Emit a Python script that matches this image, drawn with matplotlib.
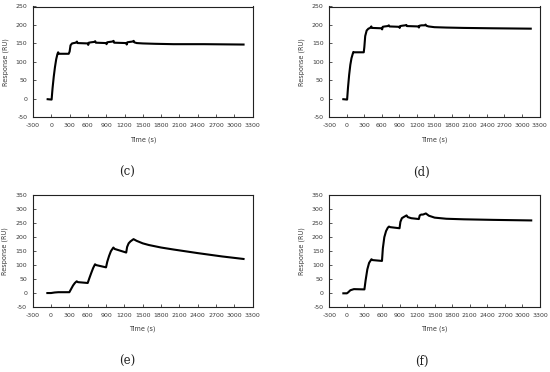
import matplotlib
matplotlib.use("Agg")
import matplotlib.pyplot as plt

plt.rcParams["axes.unicode_minus"] = False

# ---- data ----
t_c = [-60, 5, 20, 40, 60, 80, 100, 112, 125, 285, 300, 315, 340, 370, 400, 420, 430,
       600, 605, 615, 650, 700, 720, 730, 900, 905, 915, 950, 1000, 1020, 1030,
       1230, 1235, 1245, 1280, 1330, 1350, 1360, 1400, 1500, 1700, 2000, 2500, 3150]
r_c = [-1, -2, 28, 60, 86, 107, 121, 126, 122, 122, 128, 145, 150, 151, 152, 155, 151,
       150, 146, 152, 153, 154, 156, 152, 151, 148, 153, 154, 155, 157, 152,
       151, 147, 153, 154, 155, 157, 153, 151, 150, 149, 148, 148, 147]

t_d = [-60, 5, 20, 40, 60, 80, 100, 112, 125, 290, 300, 315, 340, 370, 400, 420, 430,
       600, 605, 615, 650, 700, 720, 730, 900, 905, 915, 950, 1000, 1020, 1030,
       1230, 1235, 1245, 1280, 1330, 1350, 1360, 1400, 1500, 1700, 2000, 2500, 3150]
r_d = [-1, -2, 30, 65, 92, 110, 121, 127, 126, 126, 140, 170, 185, 190, 192, 196, 192,
       191, 188, 195, 196, 197, 199, 196, 195, 192, 197, 198, 199, 200, 197,
       196, 193, 198, 199, 199, 201, 198, 196, 194, 193, 192, 191, 190]

t_e = [-60, 0, 60, 120, 300, 330, 360, 390, 420, 440, 600, 630, 660, 690, 720, 740,
       900, 920, 950, 980, 1020, 1040, 1230, 1245, 1270, 1300, 1350, 1400, 1500, 1600,
       1800, 2000, 2400, 2800, 3150]
r_e = [0, 0, 2, 3, 3, 15, 27, 36, 42, 39, 36, 55, 73, 90, 103, 100,
       92, 112, 133, 150, 163, 158, 145, 165, 178, 185, 193, 187, 178, 172,
       163, 156, 143, 131, 122]

t_f = [-60, 0, 20, 60, 120, 300, 320, 350, 380, 420, 440, 600, 615, 640, 670, 700, 720, 740,
       900, 915, 940, 970, 1020, 1040, 1100, 1230, 1245, 1270, 1300, 1350, 1400, 1500,
       1700, 2000, 2500, 3150]
r_f = [-1, -1, 2, 10, 14, 13, 45, 85, 108, 121, 118, 115, 160, 200, 222, 234, 238, 236,
       232, 255, 268, 272, 278, 272, 268, 265, 278, 281, 281, 285, 277, 270,
       266, 264, 262, 260]

panels = [
    ("(c)", t_c, r_c, (-50, 250)),
    ("(d)", t_d, r_d, (-50, 250)),
    ("(e)", t_e, r_e, (-50, 350)),
    ("(f)", t_f, r_f, (-50, 350)),
]

W, H = 550, 372
boxes = [  # left, right, top, bottom in pixels
    (33, 252.7, 6.5, 117.3),
    (329.3, 539.5, 6.5, 117.3),
    (32.7, 252.7, 195.3, 307),
    (329.3, 540, 195.3, 307),
]
label_pos = [(127, 172.7), (421.7, 172.7), (127, 361.7), (421.7, 361.7)]

xticks = list(range(-300, 3301, 300))
txtc = "#3a3a3a"

fig = plt.figure(figsize=(W / 100, H / 100), dpi=100)
for (lab, t, r, ylim), (l, rr, tp, bt), (lx, ly) in zip(panels, boxes, label_pos):
    ax = fig.add_axes([l / W, 1 - bt / H, (rr - l) / W, (bt - tp) / H])
    ax.plot(t, r, color="black", lw=1.5, solid_joinstyle="round")
    ax.set_xlim(-300, 3300)
    ax.set_ylim(*ylim)
    ax.set_xticks(xticks)
    ax.set_yticks(list(range(ylim[0], ylim[1] + 1, 50)))
    ax.tick_params(direction="in", length=2, width=0.6, labelsize=4.5,
                   colors=txtc, pad=4)
    ax.tick_params(axis="x", pad=4)
    for s in ax.spines.values():
        s.set_linewidth(0.8)
        s.set_color("#222222")
    ax.set_xlabel("Time (s)", fontsize=4.7, color=txtc, labelpad=6)
    ax.set_ylabel("Response (RU)", fontsize=4.7, color=txtc, labelpad=5)
    fig.text(lx / W, 1 - ly / H, lab, ha="center", va="center",
             fontsize=8.5, family="DejaVu Serif", color="#222222")

fig.savefig("out.png", dpi=100)
